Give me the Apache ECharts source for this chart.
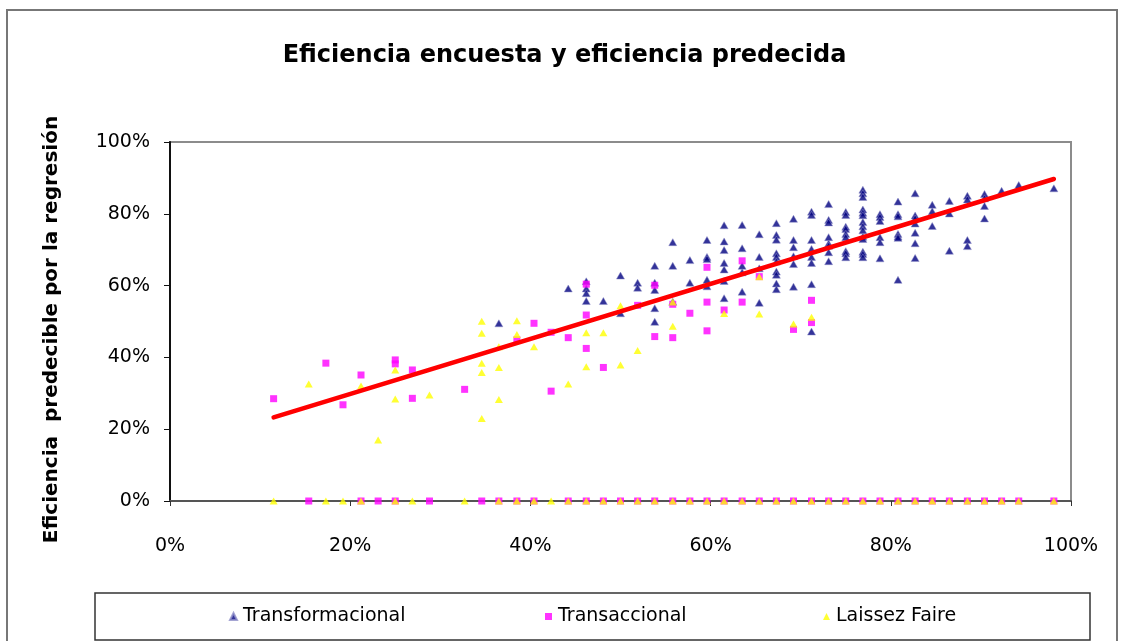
<!DOCTYPE html>
<html>
<head>
<meta charset="utf-8">
<script src="https://cdn.jsdelivr.net/npm/echarts@6/dist/echarts.min.js"></script>
<style>
  html, body { margin: 0; padding: 0; background: #fff; }
  #chart { width: 1129px; height: 641px; }
</style>
</head>
<body>
<div id="chart"></div>
<script>
// x / y in percent
var transformacional = [
  [36.5,49.5],
  [44.2,59.2],
  [46.2,61.2],[46.2,59.2],[46.2,57.9],[46.2,55.7],
  [48.1,55.7],
  [50.0,62.8],[50.0,52.3],
  [51.9,60.8],[51.9,59.4],
  [53.8,65.5],[53.8,60.8],[53.8,58.8],[53.8,53.7],[53.8,49.9],
  [55.8,72.1],[55.8,65.5],[55.8,55.5],
  [57.7,67.1],[57.7,60.8],
  [59.6,72.7],[59.6,68.0],[59.6,67.4],[59.6,61.6],[59.6,59.8],
  [61.5,76.8],[61.5,72.3],[61.5,69.9],[61.5,66.3],[61.5,64.5],[61.5,61.3],[61.5,56.5],
  [63.5,76.9],[63.5,70.4],[63.5,65.5],[63.5,63.7],[63.5,58.3],
  [65.4,74.3],[65.4,68.0],[65.4,64.8],[65.4,55.2],
  [67.3,77.4],[67.3,74.1],[67.3,72.8],[67.3,69.0],[67.3,68.0],[67.3,66.7],[67.3,63.9],[67.3,63.0],[67.3,60.6],[67.3,59.0],
  [69.2,78.6],[69.2,72.7],[69.2,70.7],[69.2,68.2],[69.2,66.0],[69.2,59.7],
  [71.2,80.6],[71.2,79.7],[71.2,72.7],[71.2,70.2],[71.2,68.0],[71.2,66.3],[71.2,60.4],[71.2,47.2],
  [73.1,82.7],[73.1,78.3],[73.1,77.6],[73.1,73.5],[73.1,71.7],[73.1,71.1],[73.1,69.3],[73.1,66.8],
  [75.0,80.5],[75.0,79.7],[75.0,76.4],[75.0,75.8],[75.0,74.4],[75.0,73.5],[75.0,69.6],[75.0,69.0],[75.0,67.9],
  [76.9,86.7],[76.9,85.7],[76.9,84.7],[76.9,81.2],[76.9,80.3],[76.9,79.6],[76.9,77.7],[76.9,76.5],[76.9,75.4],[76.9,73.6],[76.9,73.0],[76.9,69.4],[76.9,68.8],[76.9,67.9],
  [78.8,79.9],[78.8,79.1],[78.8,78.0],[78.8,73.5],[78.8,72.1],[78.8,67.6],
  [80.8,83.4],[80.8,79.9],[80.8,79.3],[80.8,74.4],[80.8,73.7],[80.8,73.3],[80.8,61.6],
  [82.7,85.7],[82.7,79.5],[82.7,78.7],[82.7,77.3],[82.7,74.7],[82.7,71.8],[82.7,67.7],
  [84.6,82.5],[84.6,80.7],[84.6,76.6],
  [86.5,83.6],[86.5,80.1],[86.5,69.7],
  [88.5,85.0],[88.5,84.0],[88.5,72.7],[88.5,71.0],
  [90.4,85.5],[90.4,84.3],[90.4,82.2],[90.4,78.7],
  [92.3,86.4],
  [94.2,88.0],
  [98.1,87.1]
];

var transaccional = [
  [11.5,28.5],[17.3,38.4],[19.2,26.8],[21.2,35.1],[25.0,39.3],[25.0,38.2],
  [26.9,36.5],[26.9,28.6],[32.7,31.1],[38.5,44.9],[40.4,49.5],[42.3,47.0],
  [42.3,30.6],[44.2,45.5],[46.2,60.4],[46.2,51.8],[46.2,42.5],[48.1,37.2],
  [51.9,54.5],[53.8,60.1],[53.8,45.8],[55.8,54.8],[55.8,45.5],[57.7,52.3],
  [59.6,65.1],[59.6,55.4],[59.6,47.4],[61.5,53.2],[63.5,66.9],[63.5,55.4],
  [65.4,62.5],[69.2,47.8],[71.2,55.9],[71.2,49.7]
];
// x positions of the Transaccional points sitting on 0%
var transaccionalZeroX = [15.4,21.2,23.1,25.0,28.8,34.6,36.5,38.5,40.4,44.2,46.2,48.1,50.0,
  51.9,53.8,55.8,57.7,59.6,61.5,63.5,65.4,67.3,69.2,71.2,73.1,75.0,76.9,78.8,80.8,82.7,
  84.6,86.5,88.5,90.4,92.3,94.2,98.1];

var laissezFaire = [
  [15.4,32.6],[21.2,32.0],[23.1,17.0],[25.0,36.5],[25.0,28.4],[28.8,29.5],
  [34.6,50.1],[34.6,46.7],[34.6,38.4],[34.6,35.8],[34.6,23.0],[36.5,43.0],
  [36.5,37.2],[36.5,28.3],[38.5,50.2],[38.5,46.4],[40.4,43.0],[44.2,32.6],
  [46.2,46.9],[46.2,37.4],[48.1,46.9],[50.0,54.4],[50.0,37.9],[51.9,41.9],
  [55.8,55.4],[55.8,48.7],[61.5,52.2],[65.4,62.5],[65.4,52.1],[69.2,49.3],[71.2,51.2]
];
// x positions of the Laissez Faire points sitting on 0%
var laissezZeroX = [11.5,17.3,19.2,21.2,25.0,26.9,32.7,36.5,38.5,40.4,42.3,44.2,46.2,48.1,
  50.0,51.9,53.8,55.8,57.7,59.6,61.5,63.5,65.4,67.3,69.2,71.2,73.1,75.0,76.9,78.8,80.8,
  82.7,84.6,86.5,88.5,90.4,92.3,94.2,98.1];

// regression line, two ends
var trendX = [11.5, 98.1];
var trendY = [23.3, 89.7];

var axisTicks = [0, 20, 40, 60, 80, 100];

var chart = echarts.init(document.getElementById('chart'), null, {renderer: 'canvas'});

var labelFont = 'DejaVu Sans';

chart.setOption({
  animation: false,
  backgroundColor: '#fff',
  title: {
    text: 'Eficiencia encuesta y eficiencia predecida',
    left: 'center',
    top: 39,
    textStyle: {
      fontFamily: labelFont,
      fontSize: 24,
      fontWeight: 'bold',
      color: '#000'
    }
  },
  legend: [
    {data: ['Transformacional'], left: 229, top: 607},
    {data: ['Transaccional'], left: 545, top: 607},
    {data: ['Laissez Faire'], left: 823, top: 607}
  ].map(function (l) {
    l.itemWidth = 7;
    l.itemHeight = 7;
    l.itemGap = 0;
    l.padding = 0;
    l.textStyle = {fontFamily: labelFont, fontSize: 19, color: '#000', padding: [0, 0, 0, 1]};
    return l;
  }),
  graphic: [
    {
      type: 'rect',
      shape: {x: 7, y: 10, width: 1110, height: 700},
      style: {fill: 'none', stroke: '#777', lineWidth: 2},
      silent: true, z: -1
    },
    {
      type: 'rect',
      shape: {x: 95, y: 593, width: 995, height: 47},
      style: {fill: 'none', stroke: '#333', lineWidth: 1.5},
      silent: true, z: -1
    }
  ],
  grid: {
    left: 170,
    right: 58,
    top: 142,
    bottom: 140,
    containLabel: false,
    show: true,
    borderColor: '#8c8c8c',
    borderWidth: 2,
    backgroundColor: '#fff'
  },
  xAxis: {
    type: 'value',
    min: axisTicks[0],
    max: axisTicks[axisTicks.length - 1],
    interval: 20,
    axisLine: {show: true, onZero: false, lineStyle: {color: '#555', width: 2}},
    axisTick: {show: true, length: 5, lineStyle: {color: '#333'}},
    axisLabel: {
      margin: 36,
      formatter: '{value}%',
      fontFamily: labelFont,
      fontSize: 19,
      color: '#000'
    },
    splitLine: {show: false}
  },
  yAxis: {
    type: 'value',
    min: axisTicks[0],
    max: axisTicks[axisTicks.length - 1],
    interval: 20,
    name: 'Eficiencia  predecible por la regresión',
    nameLocation: 'middle',
    nameGap: 108,
    nameRotate: 90,
    nameTextStyle: {
      fontFamily: labelFont,
      fontSize: 20,
      fontWeight: 'bold',
      color: '#000',
      padding: [0, 16, 0, 0]
    },
    axisLine: {show: true, lineStyle: {color: '#111', width: 2}},
    axisTick: {show: true, length: 6, lineStyle: {color: '#111'}},
    axisLabel: {
      margin: 20,
      formatter: '{value}%',
      fontFamily: labelFont,
      fontSize: 19,
      color: '#000'
    },
    splitLine: {show: false}
  },
  series: [
    {
      name: 'Transformacional',
      type: 'scatter',
      symbol: 'triangle',
      symbolSize: [8, 7],
      itemStyle: {color: '#000080', borderColor: '#8f8fc8', borderWidth: 0.6},
      data: transformacional
    },
    {
      name: 'Transaccional',
      type: 'scatter',
      symbol: 'rect',
      symbolSize: [7, 7],
      itemStyle: {color: '#ff00ff'},
      data: transaccional.concat(transaccionalZeroX.map(function (x) { return [x, 0]; }))
    },
    {
      name: 'Laissez Faire',
      type: 'scatter',
      symbol: 'triangle',
      symbolSize: [8, 7],
      itemStyle: {color: '#ffff00'},
      data: laissezFaire.concat(laissezZeroX.map(function (x) { return [x, 0]; }))
    },
    {
      name: 'Regresión',
      type: 'line',
      symbol: 'none',
      silent: true,
      lineStyle: {color: '#ff0000', width: 4.5, cap: 'round'},
      z: 5,
      data: trendX.map(function (x, i) { return [x, trendY[i]]; })
    }
  ]
});
</script>
</body>
</html>
